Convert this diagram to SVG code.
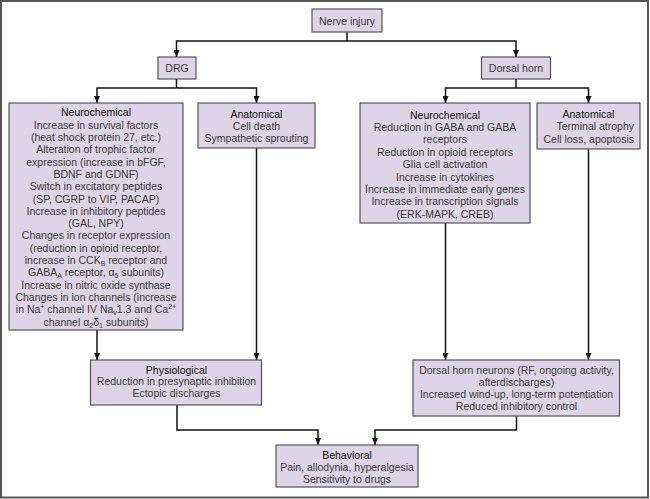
<svg xmlns="http://www.w3.org/2000/svg" width="650" height="499" viewBox="0 0 650 499">
<defs>
<style>
.box{fill:#ddd4e8;stroke:#555;stroke-width:1.2}
text{font-family:"Liberation Sans",Arial,sans-serif;font-size:10.5px;fill:#3a3a3a;text-anchor:middle}
.t{fill:#111}
.c path{fill:none;stroke:#111;stroke-width:1.5}
.s{font-size:7px}
</style>
<marker id="ah" viewBox="0 0 7 6" refX="7" refY="3" markerWidth="7" markerHeight="6" markerUnits="userSpaceOnUse" orient="auto"><path d="M0,0 L7,3 L0,6 z" fill="#111"/></marker>
</defs>
<rect x="0" y="0" width="650" height="499" fill="#fff"/>
<rect x="1" y="1" width="647" height="496.5" fill="none" stroke="#555" stroke-width="2"/>

<g class="c">
<path d="M347 32 V41"/>
<path d="M347 41 H176.5 V57" marker-end="url(#ah)"/>
<path d="M347 41 H516 V57" marker-end="url(#ah)"/>
<path d="M176.5 79 V88"/>
<path d="M176.5 88 H97 V103" marker-end="url(#ah)"/>
<path d="M176.5 88 H256.5 V103" marker-end="url(#ah)"/>
<path d="M516 79 V88"/>
<path d="M516 88 H445.5 V103" marker-end="url(#ah)"/>
<path d="M516 88 H588.5 V103" marker-end="url(#ah)"/>
<path d="M97 330 V360" marker-end="url(#ah)"/>
<path d="M256.5 148 V360" marker-end="url(#ah)"/>
<path d="M445.5 223 V360" marker-end="url(#ah)"/>
<path d="M588.5 149 V360" marker-end="url(#ah)"/>
<path d="M177 405 V430 H318 V445" marker-end="url(#ah)"/>
<path d="M516.5 416 V430 H375 V445" marker-end="url(#ah)"/>
</g>

<g id="nerve-injury">
<rect class="box" x="312" y="9" width="70" height="23"/>
<text x="347" y="24.5">Nerve injury</text>
</g>
<g id="drg">
<rect class="box" x="158" y="57" width="38" height="22"/>
<text x="177" y="72">DRG</text>
</g>
<g id="dorsal-horn">
<rect class="box" x="481.5" y="57" width="69" height="22"/>
<text x="516" y="72">Dorsal horn</text>
</g>

<g id="drg-neurochemical">
<rect class="box" x="9" y="103" width="174" height="227"/>
<text class="t" x="96" y="116.4">Neurochemical</text>
<text x="96" y="128.7">Increase in survival factors</text>
<text x="96" y="141">(heat shock protein 27, etc.)</text>
<text x="96" y="153.3">Alteration of trophic factor</text>
<text x="96" y="165.6">expression (increase in bFGF,</text>
<text x="96" y="177.9">BDNF and GDNF)</text>
<text x="96" y="190.2">Switch in excitatory peptides</text>
<text x="96" y="202.5">(SP, CGRP to VIP, PACAP)</text>
<text x="96" y="214.8">Increase in inhibitory peptides</text>
<text x="96" y="227.1">(GAL, NPY)</text>
<text x="96" y="239.4">Changes in receptor expression</text>
<text x="96" y="251.7">(reduction in opioid receptor,</text>
<text x="96" y="264">increase in CCK<tspan class="s" dy="2">B</tspan><tspan dy="-2"> receptor and</tspan></text>
<text x="96" y="276.3">GABA<tspan class="s" dy="2">A</tspan><tspan dy="-2"> receptor, α</tspan><tspan class="s" dy="2">5</tspan><tspan dy="-2"> subunits)</tspan></text>
<text x="96" y="288.6">Increase in nitric oxide synthase</text>
<text x="96" y="300.9">Changes in ion channels (increase</text>
<text x="96" y="313.2">in Na<tspan class="s" dy="-4">+</tspan><tspan dy="4"> channel IV Na</tspan><tspan class="s" dy="2">v</tspan><tspan dy="-2">1.3 and Ca</tspan><tspan class="s" dy="-4">2+</tspan></text>
<text x="96" y="325.5">channel α<tspan class="s" dy="2">2</tspan><tspan dy="-2">δ</tspan><tspan class="s" dy="2">1</tspan><tspan dy="-2"> subunits)</tspan></text>
</g>

<g id="drg-anatomical">
<rect class="box" x="198" y="103" width="117" height="45"/>
<text class="t" x="256.5" y="117.7">Anatomical</text>
<text x="256.5" y="129.7">Cell death</text>
<text x="256.5" y="142.2">Sympathetic sprouting</text>
</g>

<g id="dh-neurochemical">
<rect class="box" x="360" y="103" width="170" height="120"/>
<text class="t" x="445" y="118.7">Neurochemical</text>
<text x="445" y="131">Reduction in GABA and GABA</text>
<text x="445" y="143.4">receptors</text>
<text x="445" y="155.8">Reduction in opioid receptors</text>
<text x="445" y="168.2">Glia cell activation</text>
<text x="445" y="180.6">Increase in cytokines</text>
<text x="445" y="193">Increase in immediate early genes</text>
<text x="445" y="205.4">Increase in transcription signals</text>
<text x="445" y="217.8">(ERK-MAPK, CREB)</text>
</g>

<g id="dh-anatomical">
<rect class="box" x="537" y="103" width="103" height="46"/>
<text class="t" x="588.5" y="117.7">Anatomical</text>
<text x="634" y="129.7" style="text-anchor:end">Terminal atrophy</text>
<text x="634" y="142.7" style="text-anchor:end">Cell loss, apoptosis</text>
</g>

<g id="physiological">
<rect class="box" x="90.5" y="360" width="171" height="45"/>
<text class="t" x="176.5" y="373.7">Physiological</text>
<text x="176.5" y="385.4">Reduction in presynaptic inhibition</text>
<text x="176.5" y="397">Ectopic discharges</text>
</g>

<g id="dh-neurons">
<rect class="box" x="413" y="360" width="206.5" height="56"/>
<text x="516.5" y="373.7">Dorsal horn neurons (RF, ongoing activity,</text>
<text x="516.5" y="386">afterdischarges)</text>
<text x="516.5" y="398">Increased wind-up, long-term potentiation</text>
<text x="516.5" y="410.4">Reduced inhibitory control</text>
</g>

<g id="behavioral">
<rect class="box" x="276" y="445" width="142" height="42"/>
<text class="t" x="347" y="458.7">Behavioral</text>
<text x="347" y="471.4">Pain, allodynia, hyperalgesia</text>
<text x="347" y="483">Sensitivity to drugs</text>
</g>
</svg>
